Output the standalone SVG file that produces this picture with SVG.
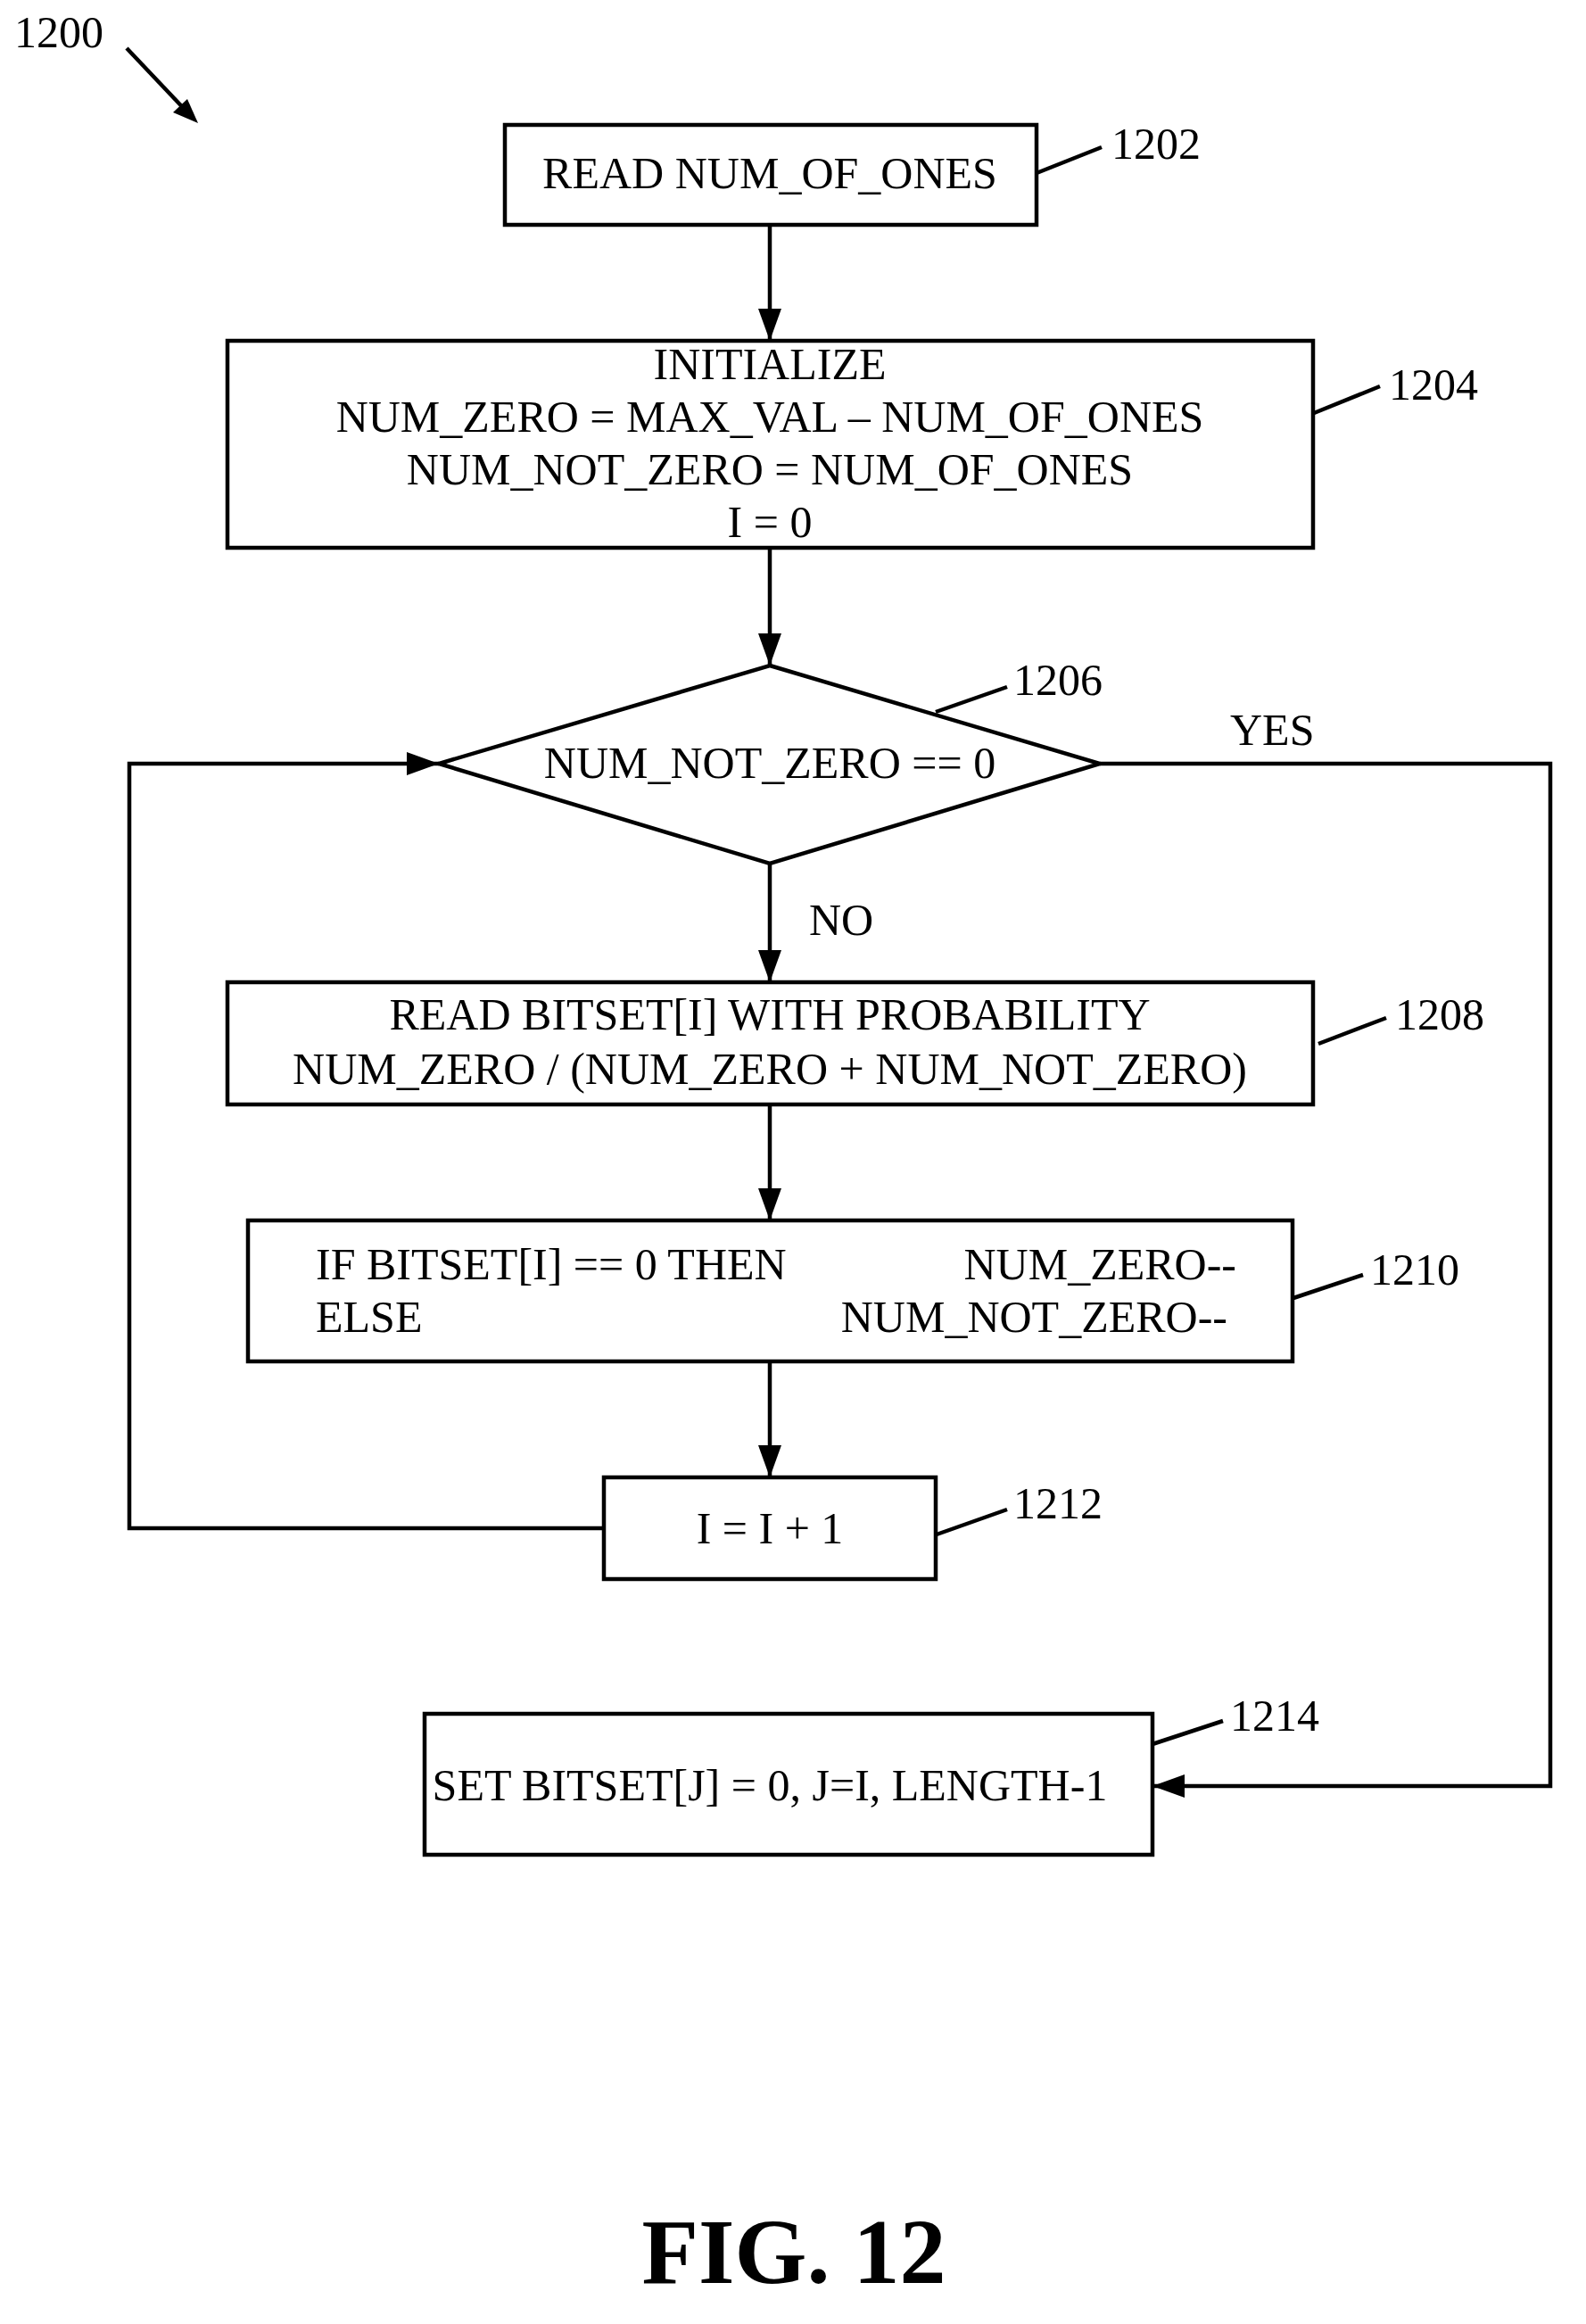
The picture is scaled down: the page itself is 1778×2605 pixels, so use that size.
<svg xmlns="http://www.w3.org/2000/svg" width="1778" height="2605" viewBox="0 0 1778 2605">
<style>
.b{fill:#fff;stroke:#000;stroke-width:4.5}
.l{fill:none;stroke:#000;stroke-width:4.5}
.t{font-family:"Liberation Serif",serif;font-size:50px;fill:#000}
.c{text-anchor:middle}
</style>
<defs>
<marker id="A" markerWidth="36" markerHeight="26" refX="36" refY="13" orient="auto" markerUnits="userSpaceOnUse"><path d="M0,0L36,13L0,26z"/></marker></defs>
<rect width="1778" height="2605" fill="#fff"/>
<g id="connectors">
<line class="l" x1="863" y1="252" x2="863" y2="382" marker-end="url(#A)"/>
<line class="l" x1="863" y1="614" x2="863" y2="746" marker-end="url(#A)"/>
<line class="l" x1="863" y1="968" x2="863" y2="1101" marker-end="url(#A)"/>
<line class="l" x1="863" y1="1238" x2="863" y2="1368" marker-end="url(#A)"/>
<line class="l" x1="863" y1="1526" x2="863" y2="1656" marker-end="url(#A)"/>
<polyline class="l" points="677,1713 145,1713 145,856 492,856" marker-end="url(#A)"/>
<polyline class="l" points="1233,856 1738,856 1738,2002 1292,2002" marker-end="url(#A)"/>
<text class="t" x="1379" y="835">YES</text>
<text class="t" x="907" y="1048">NO</text>
<line class="l" x1="142" y1="54" x2="214" y2="130"/>
<path d="M222,138L194,126L210,111z"/>
</g>
<text class="t" x="16" y="53">1200</text>
<g id="n1202"><rect class="b" x="566" y="140" width="596" height="112"/>
<text class="t c" x="863" y="211">READ NUM_OF_ONES</text>
<line class="l" x1="1162" y1="194" x2="1235" y2="165"/><text class="t" x="1246" y="178">1202</text></g>
<g id="n1204"><rect class="b" x="255" y="382" width="1217" height="232"/>
<text class="t c" x="863" y="425">INITIALIZE</text>
<text class="t c" x="863" y="484">NUM_ZERO = MAX_VAL – NUM_OF_ONES</text>
<text class="t c" x="863" y="543">NUM_NOT_ZERO = NUM_OF_ONES</text>
<text class="t c" x="863" y="602">I = 0</text>
<line class="l" x1="1473" y1="463" x2="1547" y2="433"/><text class="t" x="1557" y="448">1204</text></g>
<g id="n1206"><polygon class="b" points="863,746 1233,856 863,968 492,856"/>
<text class="t c" x="863" y="872">NUM_NOT_ZERO == 0</text>
<line class="l" x1="1049" y1="798" x2="1129" y2="770"/><text class="t" x="1136" y="779">1206</text></g>
<g id="n1208"><rect class="b" x="255" y="1101" width="1217" height="137"/>
<text class="t c" x="863" y="1154">READ BITSET[I] WITH PROBABILITY</text>
<text class="t c" x="863" y="1215">NUM_ZERO / (NUM_ZERO + NUM_NOT_ZERO)</text>
<line class="l" x1="1478" y1="1170" x2="1554" y2="1141"/><text class="t" x="1564" y="1154">1208</text></g>
<g id="n1210"><rect class="b" x="278" y="1368" width="1171" height="158"/>
<text class="t" x="354" y="1434">IF BITSET[I] == 0 THEN</text>
<text class="t" x="354" y="1493">ELSE</text>
<text class="t" x="1386" y="1434" text-anchor="end">NUM_ZERO--</text>
<text class="t" x="1376" y="1493" text-anchor="end">NUM_NOT_ZERO--</text>
<line class="l" x1="1450" y1="1455" x2="1528" y2="1429"/><text class="t" x="1536" y="1440">1210</text></g>
<g id="n1212"><rect class="b" x="677" y="1656" width="372" height="114"/>
<text class="t c" x="863" y="1730">I = I + 1</text>
<line class="l" x1="1050" y1="1720" x2="1129" y2="1692"/><text class="t" x="1136" y="1702">1212</text></g>
<g id="n1214"><rect class="b" x="476" y="1921" width="816" height="158"/>
<text class="t c" x="863" y="2018">SET BITSET[J] = 0, J=I, LENGTH-1</text>
<line class="l" x1="1292" y1="1955" x2="1371" y2="1929"/><text class="t" x="1379" y="1940">1214</text></g>
<text x="890" y="2559" text-anchor="middle" style="font-family:'Liberation Serif',serif;font-size:104px;font-weight:bold">FIG. 12</text>
</svg>
